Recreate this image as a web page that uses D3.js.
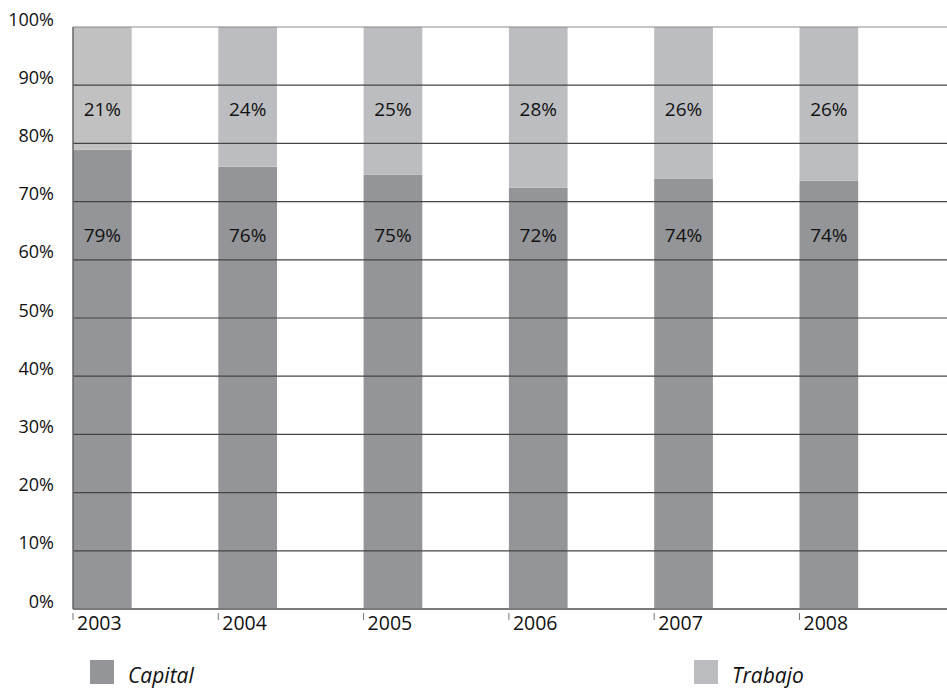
<!DOCTYPE html>
<html><head><meta charset="utf-8">
<script src="https://cdn.jsdelivr.net/npm/d3@7/dist/d3.min.js"></script>
<style>body{margin:0;background:#fff}svg{display:block}</style>
</head><body>
<svg id="c" width="947" height="690"></svg>
<script>
const years = ["2003","2004","2005","2006","2007","2008"];
const capital = [78.9, 76.0, 74.6, 72.4, 73.9, 73.6];
const trabajo = [21.1, 24.0, 25.4, 27.6, 26.1, 26.4];
const capitalLabels = ["79%","76%","75%","72%","74%","74%"];
const trabajoLabels = ["21%","24%","25%","28%","26%","26%"];
const yTicks = [0,10,20,30,40,50,60,70,80,90,100];
const seriesNames = ["Capital","Trabajo"];

(function(){
const svg = d3.select("#c");
const FONT = "'Open Sans', 'Noto Sans', sans-serif";
const mLeft = 73, mTop = 27, mBottom = 609, gridRight = 947;
const step = 145.3, bw = 58.7;

const x = d3.scaleBand().domain(years)
  .range([mLeft, mLeft + step*(years.length-1) + bw])
  .paddingInner(1 - bw/step).paddingOuter(0).align(0);
const y = d3.scaleLinear().domain([0,100]).range([mBottom, mTop]);
const colors = {Capital:"#949599", Trabajo:"#bcbdc0"};

const g = svg.append("g");
years.forEach((yr,i)=>{
  g.append("rect").attr("x", x(yr)).attr("width", x.bandwidth())
    .attr("y", y(capital[i])).attr("height", y(0)-y(capital[i]))
    .attr("fill", colors.Capital);
  g.append("rect").attr("x", x(yr)).attr("width", x.bandwidth())
    .attr("y", y(capital[i]+trabajo[i])).attr("height", y(capital[i]) - y(capital[i]+trabajo[i]))
    .attr("fill", i===0 ? "#c1c1c1" : colors.Trabajo);
});

svg.append("g").selectAll("line").data(yTicks).join("line")
  .attr("x1", mLeft).attr("x2", gridRight)
  .attr("y1", d=>y(d)).attr("y2", d=>y(d))
  .attr("stroke", d=> d===0 ? "#7a7a7a" : (d===100 ? "#8a8a8a" : "#444"))
  .attr("stroke-width", d=> d===0 ? 1.8 : 1.2);

svg.append("line").attr("x1", mLeft).attr("x2", mLeft).attr("y1", mTop).attr("y2", mBottom)
  .attr("stroke","#666").attr("stroke-width",1.5);

svg.append("g").selectAll("text").data(yTicks).join("text")
  .attr("x", 54).attr("y", d=>y(d)-1.5)
  .attr("text-anchor","end").attr("font-family",FONT).attr("font-size",18)
  .attr("fill","#111").text(d=>d+"%");

const xa = svg.append("g");
years.forEach(yr=>{
  xa.append("line").attr("x1", x(yr)).attr("x2", x(yr)).attr("y1", 613).attr("y2", 620)
    .attr("stroke","#777").attr("stroke-width",1);
  xa.append("text").attr("x", x(yr)+4).attr("y", 630)
    .attr("font-family",FONT).attr("font-size",19.5).attr("fill","#111").text(yr);
});

years.forEach((yr,i)=>{
  const cx = x(yr) + x.bandwidth()/2;
  svg.append("text").attr("x", cx).attr("y", y(84.7))
    .attr("text-anchor","middle").attr("font-family",FONT).attr("font-size",19)
    .attr("fill","#111").text(trabajoLabels[i]);
  svg.append("text").attr("x", cx).attr("y", y(63.1))
    .attr("text-anchor","middle").attr("font-family",FONT).attr("font-size",19)
    .attr("fill","#111").text(capitalLabels[i]);
});

const legX = [90, 694];
seriesNames.forEach((s,i)=>{
  svg.append("rect").attr("x", legX[i]).attr("y", 660).attr("width",24).attr("height",24)
    .attr("fill", colors[s]);
  svg.append("text").attr("x", legX[i]+38).attr("y", 683)
    .attr("font-family",FONT).attr("font-style","italic").attr("font-size",21)
    .attr("fill","#111").text(s);
});
})();
</script>
</body></html>
